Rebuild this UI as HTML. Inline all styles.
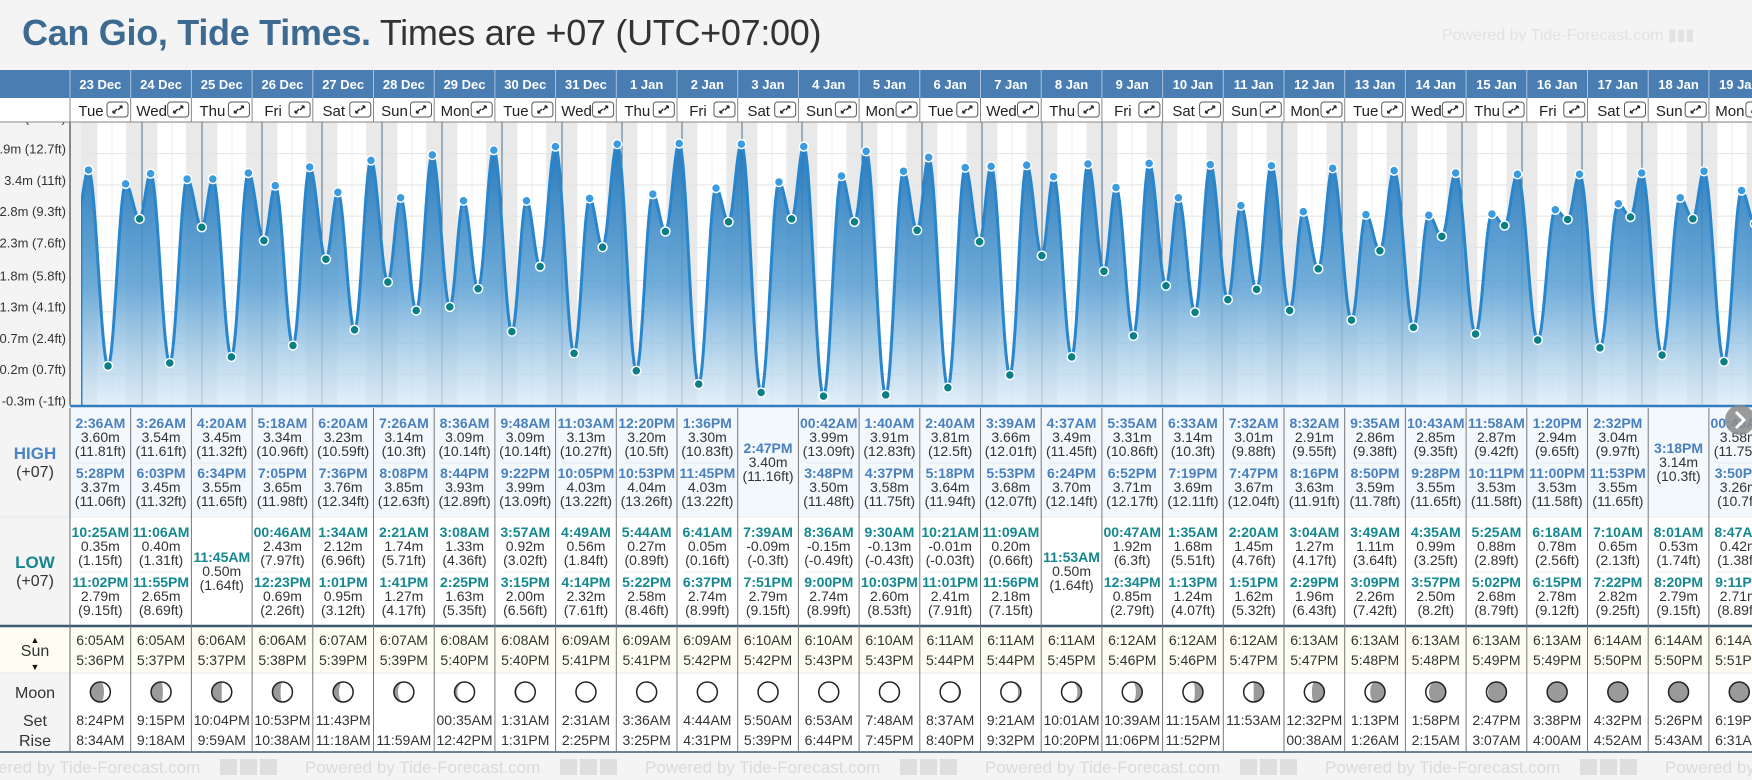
<!DOCTYPE html>
<html><head><meta charset="utf-8">
<style>
html,body{margin:0;padding:0;}
body{width:1752px;height:780px;overflow:hidden;background:#f4f4f4;position:relative;font-family:"Liberation Sans",sans-serif;}
#title{position:absolute;left:22px;top:12px;font-size:36px;white-space:nowrap;letter-spacing:-0.3px;}
#title b{color:#3d6a91;}
#title span{color:#333;}
#wm{position:absolute;left:1442px;top:25px;font-size:16px;color:#e2e2e2;white-space:nowrap;}
svg{position:absolute;left:0;top:0;}
</style></head><body>
<div id="title"><b>Can Gio, Tide Times.</b> <span>Times are +07 (UTC+07:00)</span></div>
<div id="wm">Powered by Tide-Forecast.com ▮▮▮</div>
<svg id="main" width="1752" height="780" xmlns="http://www.w3.org/2000/svg"></svg>
<script>
const dates=["23 Dec","24 Dec","25 Dec","26 Dec","27 Dec","28 Dec","29 Dec","30 Dec","31 Dec","1 Jan","2 Jan","3 Jan","4 Jan","5 Jan","6 Jan","7 Jan","8 Jan","9 Jan","10 Jan","11 Jan","12 Jan","13 Jan","14 Jan","15 Jan","16 Jan","17 Jan","18 Jan","19 Jan"];
const weekdays=["Tue","Wed","Thu","Fri","Sat","Sun","Mon","Tue","Wed","Thu","Fri","Sat","Sun","Mon","Tue","Wed","Thu","Fri","Sat","Sun","Mon","Tue","Wed","Thu","Fri","Sat","Sun","Mon"];
const highTimes=[["2:36AM","5:28PM"],["3:26AM","6:03PM"],["4:20AM","6:34PM"],["5:18AM","7:05PM"],["6:20AM","7:36PM"],["7:26AM","8:08PM"],["8:36AM","8:44PM"],["9:48AM","9:22PM"],["11:03AM","10:05PM"],["12:20PM","10:53PM"],["1:36PM","11:45PM"],["2:47PM"],["00:42AM","3:48PM"],["1:40AM","4:37PM"],["2:40AM","5:18PM"],["3:39AM","5:53PM"],["4:37AM","6:24PM"],["5:35AM","6:52PM"],["6:33AM","7:19PM"],["7:32AM","7:47PM"],["8:32AM","8:16PM"],["9:35AM","8:50PM"],["10:43AM","9:28PM"],["11:58AM","10:11PM"],["1:20PM","11:00PM"],["2:32PM","11:53PM"],["3:18PM"],["00:48AM","3:50PM"]];
const highM=[[3.60,3.37],[3.54,3.45],[3.45,3.55],[3.34,3.65],[3.23,3.76],[3.14,3.85],[3.09,3.93],[3.09,3.99],[3.13,4.03],[3.20,4.04],[3.30,4.03],[3.40],[3.99,3.50],[3.91,3.58],[3.81,3.64],[3.66,3.68],[3.49,3.70],[3.31,3.71],[3.14,3.69],[3.01,3.67],[2.91,3.63],[2.86,3.59],[2.85,3.55],[2.87,3.53],[2.94,3.53],[3.04,3.55],[3.14],[3.58,3.26]];
const highFt=[["11.81","11.06"],["11.61","11.32"],["11.32","11.65"],["10.96","11.98"],["10.59","12.34"],["10.3","12.63"],["10.14","12.89"],["10.14","13.09"],["10.27","13.22"],["10.5","13.26"],["10.83","13.22"],["11.16"],["13.09","11.48"],["12.83","11.75"],["12.5","11.94"],["12.01","12.07"],["11.45","12.14"],["10.86","12.17"],["10.3","12.11"],["9.88","12.04"],["9.55","11.91"],["9.38","11.78"],["9.35","11.65"],["9.42","11.58"],["9.65","11.58"],["9.97","11.65"],["10.3"],["11.75","10.7"]];
const lowTimes=[["10:25AM","11:02PM"],["11:06AM","11:55PM"],["11:45AM"],["00:46AM","12:23PM"],["1:34AM","1:01PM"],["2:21AM","1:41PM"],["3:08AM","2:25PM"],["3:57AM","3:15PM"],["4:49AM","4:14PM"],["5:44AM","5:22PM"],["6:41AM","6:37PM"],["7:39AM","7:51PM"],["8:36AM","9:00PM"],["9:30AM","10:03PM"],["10:21AM","11:01PM"],["11:09AM","11:56PM"],["11:53AM"],["00:47AM","12:34PM"],["1:35AM","1:13PM"],["2:20AM","1:51PM"],["3:04AM","2:29PM"],["3:49AM","3:09PM"],["4:35AM","3:57PM"],["5:25AM","5:02PM"],["6:18AM","6:15PM"],["7:10AM","7:22PM"],["8:01AM","8:20PM"],["8:47AM","9:11PM"]];
const lowM=[[0.35,2.79],[0.40,2.65],[0.50],[2.43,0.69],[2.12,0.95],[1.74,1.27],[1.33,1.63],[0.92,2.00],[0.56,2.32],[0.27,2.58],[0.05,2.74],[-0.09,2.79],[-0.15,2.74],[-0.13,2.60],[-0.01,2.41],[0.20,2.18],[0.50],[1.92,0.85],[1.68,1.24],[1.45,1.62],[1.27,1.96],[1.11,2.26],[0.99,2.50],[0.88,2.68],[0.78,2.78],[0.65,2.82],[0.53,2.79],[0.42,2.71]];
const lowFt=[["1.15","9.15"],["1.31","8.69"],["1.64"],["7.97","2.26"],["6.96","3.12"],["5.71","4.17"],["4.36","5.35"],["3.02","6.56"],["1.84","7.61"],["0.89","8.46"],["0.16","8.99"],["-0.3","9.15"],["-0.49","8.99"],["-0.43","8.53"],["-0.03","7.91"],["0.66","7.15"],["1.64"],["6.3","2.79"],["5.51","4.07"],["4.76","5.32"],["4.17","6.43"],["3.64","7.42"],["3.25","8.2"],["2.89","8.79"],["2.56","9.12"],["2.13","9.25"],["1.74","9.15"],["1.38","8.89"]];
const sunrise=["6:05AM","6:05AM","6:06AM","6:06AM","6:07AM","6:07AM","6:08AM","6:08AM","6:09AM","6:09AM","6:09AM","6:10AM","6:10AM","6:10AM","6:11AM","6:11AM","6:11AM","6:12AM","6:12AM","6:12AM","6:13AM","6:13AM","6:13AM","6:13AM","6:13AM","6:14AM","6:14AM","6:14AM"];
const sunset=["5:36PM","5:37PM","5:37PM","5:38PM","5:39PM","5:39PM","5:40PM","5:40PM","5:41PM","5:41PM","5:42PM","5:42PM","5:43PM","5:43PM","5:44PM","5:44PM","5:45PM","5:46PM","5:46PM","5:47PM","5:47PM","5:48PM","5:48PM","5:49PM","5:49PM","5:50PM","5:50PM","5:51PM"];
const moonSet=["8:24PM","9:15PM","10:04PM","10:53PM","11:43PM","","00:35AM","1:31AM","2:31AM","3:36AM","4:44AM","5:50AM","6:53AM","7:48AM","8:37AM","9:21AM","10:01AM","10:39AM","11:15AM","11:53AM","12:32PM","1:13PM","1:58PM","2:47PM","3:38PM","4:32PM","5:26PM","6:19PM"];
const moonRise=["8:34AM","9:18AM","9:59AM","10:38AM","11:18AM","11:59AM","12:42PM","1:31PM","2:25PM","3:25PM","4:31PM","5:39PM","6:44PM","7:45PM","8:40PM","9:32PM","10:20PM","11:06PM","11:52PM","","00:38AM","1:26AM","2:15AM","3:07AM","4:00AM","4:52AM","5:43AM","6:31AM"];
const moonPhase=[0.19,0.22,0.25,0.28,0.32,0.35,0.38,0.42,0.45,0.47,0.49,0.5,0.53,0.56,0.59,0.62,0.65,0.69,0.72,0.75,0.79,0.83,0.87,0.91,0.94,0.97,0.99,0.02];
const prevLowDay=-1, prevLowTime="10:15PM", prevLowM=2.86;
const tickM=["4.4","3.9","3.4","2.8","2.3","1.8","1.3","0.7","0.2","-0.3"];
const tickFt=[14.4,12.7,11,9.3,7.6,5.8,4.1,2.4,0.7,-1];

const NS="http://www.w3.org/2000/svg";
const svg=document.getElementById('main');
function el(tag,attrs,parent,txt){const e=document.createElementNS(NS,tag);for(const k in attrs)e.setAttribute(k,attrs[k]);if(txt!==undefined)e.textContent=txt;(parent||svg).appendChild(e);return e;}
function hrs(s){const m=s.match(/(\d+):(\d+)(AM|PM)/);let h=(+m[1])%12;if(m[3]=='PM')h+=12;return h+(+m[2])/60;}
const DAYW=60, X0=82;
function X(t){return X0+t*DAYW;}
function Y(m){return 170+(3.60-m)*60.3;}
const COLX0=70, COLW=60.7;
function colX(i){return COLX0+i*COLW;}
const FONT='"Liberation Sans",sans-serif';
const CT=122, CB=405, CL=81;

const defs=el('defs',{});
const lg=el('linearGradient',{id:'fillg',x1:0,y1:0,x2:0,y2:1},defs);
el('stop',{offset:'0','stop-color':'#1f74b8','stop-opacity':'0.95'},lg);
el('stop',{offset:'0.55','stop-color':'#5aa0d4','stop-opacity':'0.85'},lg);
el('stop',{offset:'1','stop-color':'#d8e9f6','stop-opacity':'0.7'},lg);
const cp=el('clipPath',{id:'cclip'},defs);el('rect',{x:CL,y:CT,width:1752-CL,height:CB-CT},cp);

el('rect',{x:70,y:CT,width:1682,height:CB-CT,fill:'#f0f0f0'});
const cg=el('g',{'clip-path':'url(#cclip)'});

el('rect',{x:CL,y:CT,width:1752-CL,height:CB-CT,fill:'#ffffff'},cg);
for(let d=-1;d<28;d++){
  const ss=d>=0?hrs(sunset[d]):17.6, sr=d+1<28?hrs(sunrise[d+1]):6.25;
  const r=el('rect',{x:X(d+ss/24),y:CT,width:X(d+1+sr/24)-X(d+ss/24),height:CB-CT,fill:'#e9e9e9'},cg);
  
}
el('rect',{x:CL,y:CT,width:X(hrs(sunrise[0])/24)-CL,height:CB-CT,fill:'#e9e9e9'},cg);
for(let d=0;d<28;d++){for(const h of [6,12,18]){el('line',{x1:X(d+h/24),x2:X(d+h/24),y1:CT,y2:CB,stroke:'#ececec','stroke-width':1},cg);}}
tickFt.forEach(f=>{const y=Y(f/3.2808);el('line',{x1:CL,x2:1752,y1:y,y2:y,stroke:'#e4e4e4','stroke-width':1},cg);});
for(let d=1;d<28;d++){const s=el('line',{x1:X(d),x2:X(d),y1:CT,y2:CB,stroke:'#4d6f8c','stroke-width':1},cg);}

const ext=[{t:prevLowDay+hrs(prevLowTime)/24,m:prevLowM,hi:false,hide:true}];
for(let i=0;i<28;i++){
  highTimes[i].forEach((s,k)=>ext.push({t:i+hrs(s)/24,m:highM[i][k],hi:true}));
  lowTimes[i].forEach((s,k)=>ext.push({t:i+hrs(s)/24,m:lowM[i][k],hi:false}));
}
ext.sort((a,b)=>a.t-b.t);
function val(t){
  for(let k=0;k<ext.length-1;k++){const a=ext[k],b=ext[k+1];if(t>=a.t&&t<=b.t){const f=(t-a.t)/(b.t-a.t);return a.m+(b.m-a.m)*(1-Math.cos(Math.PI*f))/2;}}
  return ext[ext.length-1].m;
}
let pts=[];
for(let px=CL;px<=1752;px+=1){const t=(px-X0)/DAYW;pts.push([px,Y(val(t))]);}
let d='M'+CL+','+CB+' '+pts.map(p=>'L'+p[0]+','+p[1].toFixed(1)).join(' ')+' L1752,'+CB+' Z';
const area=el('path',{d:d,fill:'url(#fillg)'},cg);
const line=el('path',{d:'M'+CL+','+CB+' '+pts.map(p=>'L'+p[0]+','+p[1].toFixed(1)).join(' '),fill:'none',stroke:'#2a86cc','stroke-width':3,'stroke-linejoin':'round'},cg);

ext.forEach(e=>{if(e.hide)return;const c=el('circle',{cx:X(e.t),cy:Y(e.m),r:4.5,fill:e.hi?'#3a9be0':'#0b7f86',stroke:'#fff','stroke-width':1.5},cg);
  });
el('line',{x1:70,x2:1752,y1:CB+1,y2:CB+1,stroke:'#2f7fc0','stroke-width':2.5});
el('line',{x1:70,x2:70,y1:CT,y2:CB,stroke:'#666','stroke-width':1.5});
tickM.forEach((m,i)=>{const y=Y(tickFt[i]/3.2808);const t=el('text',{x:66,y:y,'text-anchor':'end','font-size':13,'font-family':FONT,fill:'#333'},svg,m+'m ('+tickFt[i]+'ft)');
  });

el('rect',{x:0,y:70,width:1752,height:28,fill:'#4a7eb2'});
el('rect',{x:0,y:98,width:1752,height:24,fill:'#ffffff'});
el('line',{x1:0,x2:1752,y1:122,y2:122,stroke:'#888','stroke-width':1});
for(let i=0;i<28;i++){
  const x=colX(i);
  el('line',{x1:x,x2:x,y1:70,y2:98,stroke:'#a9c2dc','stroke-width':1});
  el('line',{x1:x,x2:x,y1:98,y2:122,stroke:'#888','stroke-width':1});
  const dt=el('text',{x:x+COLW/2,y:89,'text-anchor':'middle','font-size':13,'font-weight':'bold','font-family':FONT,fill:'#fff'},svg,dates[i]);
  
  const wd=el('text',{x:x+21,y:116,'text-anchor':'middle','font-size':15,'font-family':FONT,fill:'#222'},svg,weekdays[i]);
  
  const g=el('g',{transform:'translate('+(x+37)+',102)'});
  
  el('rect',{x:0,y:0,width:21,height:15,rx:3,fill:'#fff',stroke:'#555','stroke-width':1},g);
  el('path',{d:'M6,11 L10,7 M6,11 L6,8.5 M6,11 L8.5,11 M15,4 L11,8 M15,4 L12.5,4 M15,4 L15,6.5',stroke:'#222','stroke-width':1.3,fill:'none'},g);
}

el('rect',{x:70,y:408,width:1682,height:109,fill:'#f3f8fd'});
el('rect',{x:70,y:517,width:1682,height:109,fill:'#ffffff'});
el('rect',{x:70,y:626,width:1682,height:47,fill:'#fdfdf1'});
el('rect',{x:70,y:673,width:1682,height:79,fill:'#ffffff'});
el('rect',{x:0,y:408,width:70,height:344,fill:'#f4f4f4'});
el('rect',{x:0,y:626,width:70,height:47,fill:'#fdfdf1'});
el('line',{x1:0,x2:1752,y1:517,y2:517,stroke:'#e4e8ec','stroke-width':1});
el('line',{x1:0,x2:1752,y1:673,y2:673,stroke:'#e8e8e8','stroke-width':1});
el('line',{x1:0,x2:1752,y1:626,y2:626,stroke:'#3e5a74','stroke-width':2.5});
el('line',{x1:0,x2:1752,y1:752,y2:752,stroke:'#3e5a74','stroke-width':1.5});
el('line',{x1:70,x2:70,y1:408,y2:752,stroke:'#666','stroke-width':1});
function lbl(x,y,txt,opt,name){const t=el('text',Object.assign({x:x,y:y,'text-anchor':'middle','font-family':FONT,'font-size':16,fill:'#333'},opt||{}),svg,txt);return t;}
lbl(35,459,'HIGH',{'font-weight':'bold',fill:'#4a86c5','font-size':17},'high-row-label');
lbl(35,477,'(+07)',{},'high-timezone-label');
lbl(35,568,'LOW',{'font-weight':'bold',fill:'#15868e','font-size':17},'low-row-label');
lbl(35,586,'(+07)',{},'low-timezone-label');
lbl(35,643,'▲',{'font-size':9,fill:'#111'},'sunrise-icon');
lbl(35,656,'Sun',{},'sun-row-label');
lbl(35,670,'▼',{'font-size':9,fill:'#111'},'sunset-icon');
lbl(35,698,'Moon',{},'moon-row-label');
lbl(35,726,'Set',{},'moonset-label');
lbl(35,746,'Rise',{},'moonrise-label');

function cell(cx,y,txt,opt,name){const t=el('text',Object.assign({x:cx,y:y,'text-anchor':'middle','font-family':FONT,'font-size':14,fill:'#333'},opt||{}),svg,txt);return t;}
function moon(cx,cy,r,p){
  const g=el('g',{});
  el('circle',{cx:cx,cy:cy,r:r,fill:'#fff'},g);
  const rx=Math.abs(Math.cos(2*Math.PI*p))*r;let dd;
  if(p<0.5){const sw=p<0.25?0:1;dd=`M${cx},${cy-r} A${r},${r} 0 0 0 ${cx},${cy+r} A${rx},${r} 0 0 ${sw} ${cx},${cy-r} Z`;}
  else{const sw=p>0.75?1:0;dd=`M${cx},${cy-r} A${r},${r} 0 0 1 ${cx},${cy+r} A${rx},${r} 0 0 ${sw} ${cx},${cy-r} Z`;}
  el('path',{d:dd,fill:'#9a9a9a'},g);
  el('circle',{cx:cx,cy:cy,r:r,fill:'none',stroke:'#222','stroke-width':1.5},g);
}
for(let i=0;i<28;i++){
  const x=colX(i), cx=x+COLW/2;
  if(i>0)el('line',{x1:x,x2:x,y1:408,y2:752,stroke:'#777','stroke-width':1});
  const hb=highTimes[i].length==2?[428,478]:[453];
  highTimes[i].forEach((s,k)=>{cell(cx,hb[k],s,{'font-weight':'bold',fill:'#4a80bd'},'high-tide-time');cell(cx,hb[k]+14,highM[i][k].toFixed(2)+'m',{},'high-tide-height-m');cell(cx,hb[k]+28,'('+highFt[i][k]+'ft)',{},'high-tide-height-ft');});
  if(highTimes[i].length==2)el('line',{x1:x+8,x2:x+COLW-8,y1:463,y2:463,stroke:'#e2e8ee','stroke-width':1});
  const lb=lowTimes[i].length==2?[537,587]:[562];
  lowTimes[i].forEach((s,k)=>{cell(cx,lb[k],s,{'font-weight':'bold',fill:'#14878f'},'low-tide-time');cell(cx,lb[k]+14,lowM[i][k].toFixed(2)+'m',{},'low-tide-height-m');cell(cx,lb[k]+28,'('+lowFt[i][k]+'ft)',{},'low-tide-height-ft');});
  if(lowTimes[i].length==2)el('line',{x1:x+8,x2:x+COLW-8,y1:572,y2:572,stroke:'#e8e8e8','stroke-width':1});
  cell(cx,645,sunrise[i],{},'sunrise-time');
  cell(cx,665,sunset[i],{},'sunset-time');
  moon(cx,692,10,moonPhase[i]);
  cell(cx,725,moonSet[i],{},'moonset-time');
  cell(cx,745,moonRise[i],{},'moonrise-time');
}
const ng=el('g',{});
el('circle',{cx:1740,cy:420,r:15,fill:'#8a8a8a','fill-opacity':0.85},ng);
el('path',{d:'M1736,412 L1744,420 L1736,428',stroke:'#fff','stroke-width':3,fill:'none'},ng);
el('rect',{x:0,y:753,width:1752,height:27,fill:'#f4f4f4'});
for(let k=0;k<6;k++){const x=25+k*340;const t=el('text',{x:x-60,y:773,'font-size':17,'font-family':FONT,fill:'#dadada'},svg,'Powered by Tide-Forecast.com');
  
  for(let j=0;j<3;j++)el('rect',{x:x+195+j*20,y:759,width:17,height:16,fill:'#dedede'});}
</script>
</body></html>
